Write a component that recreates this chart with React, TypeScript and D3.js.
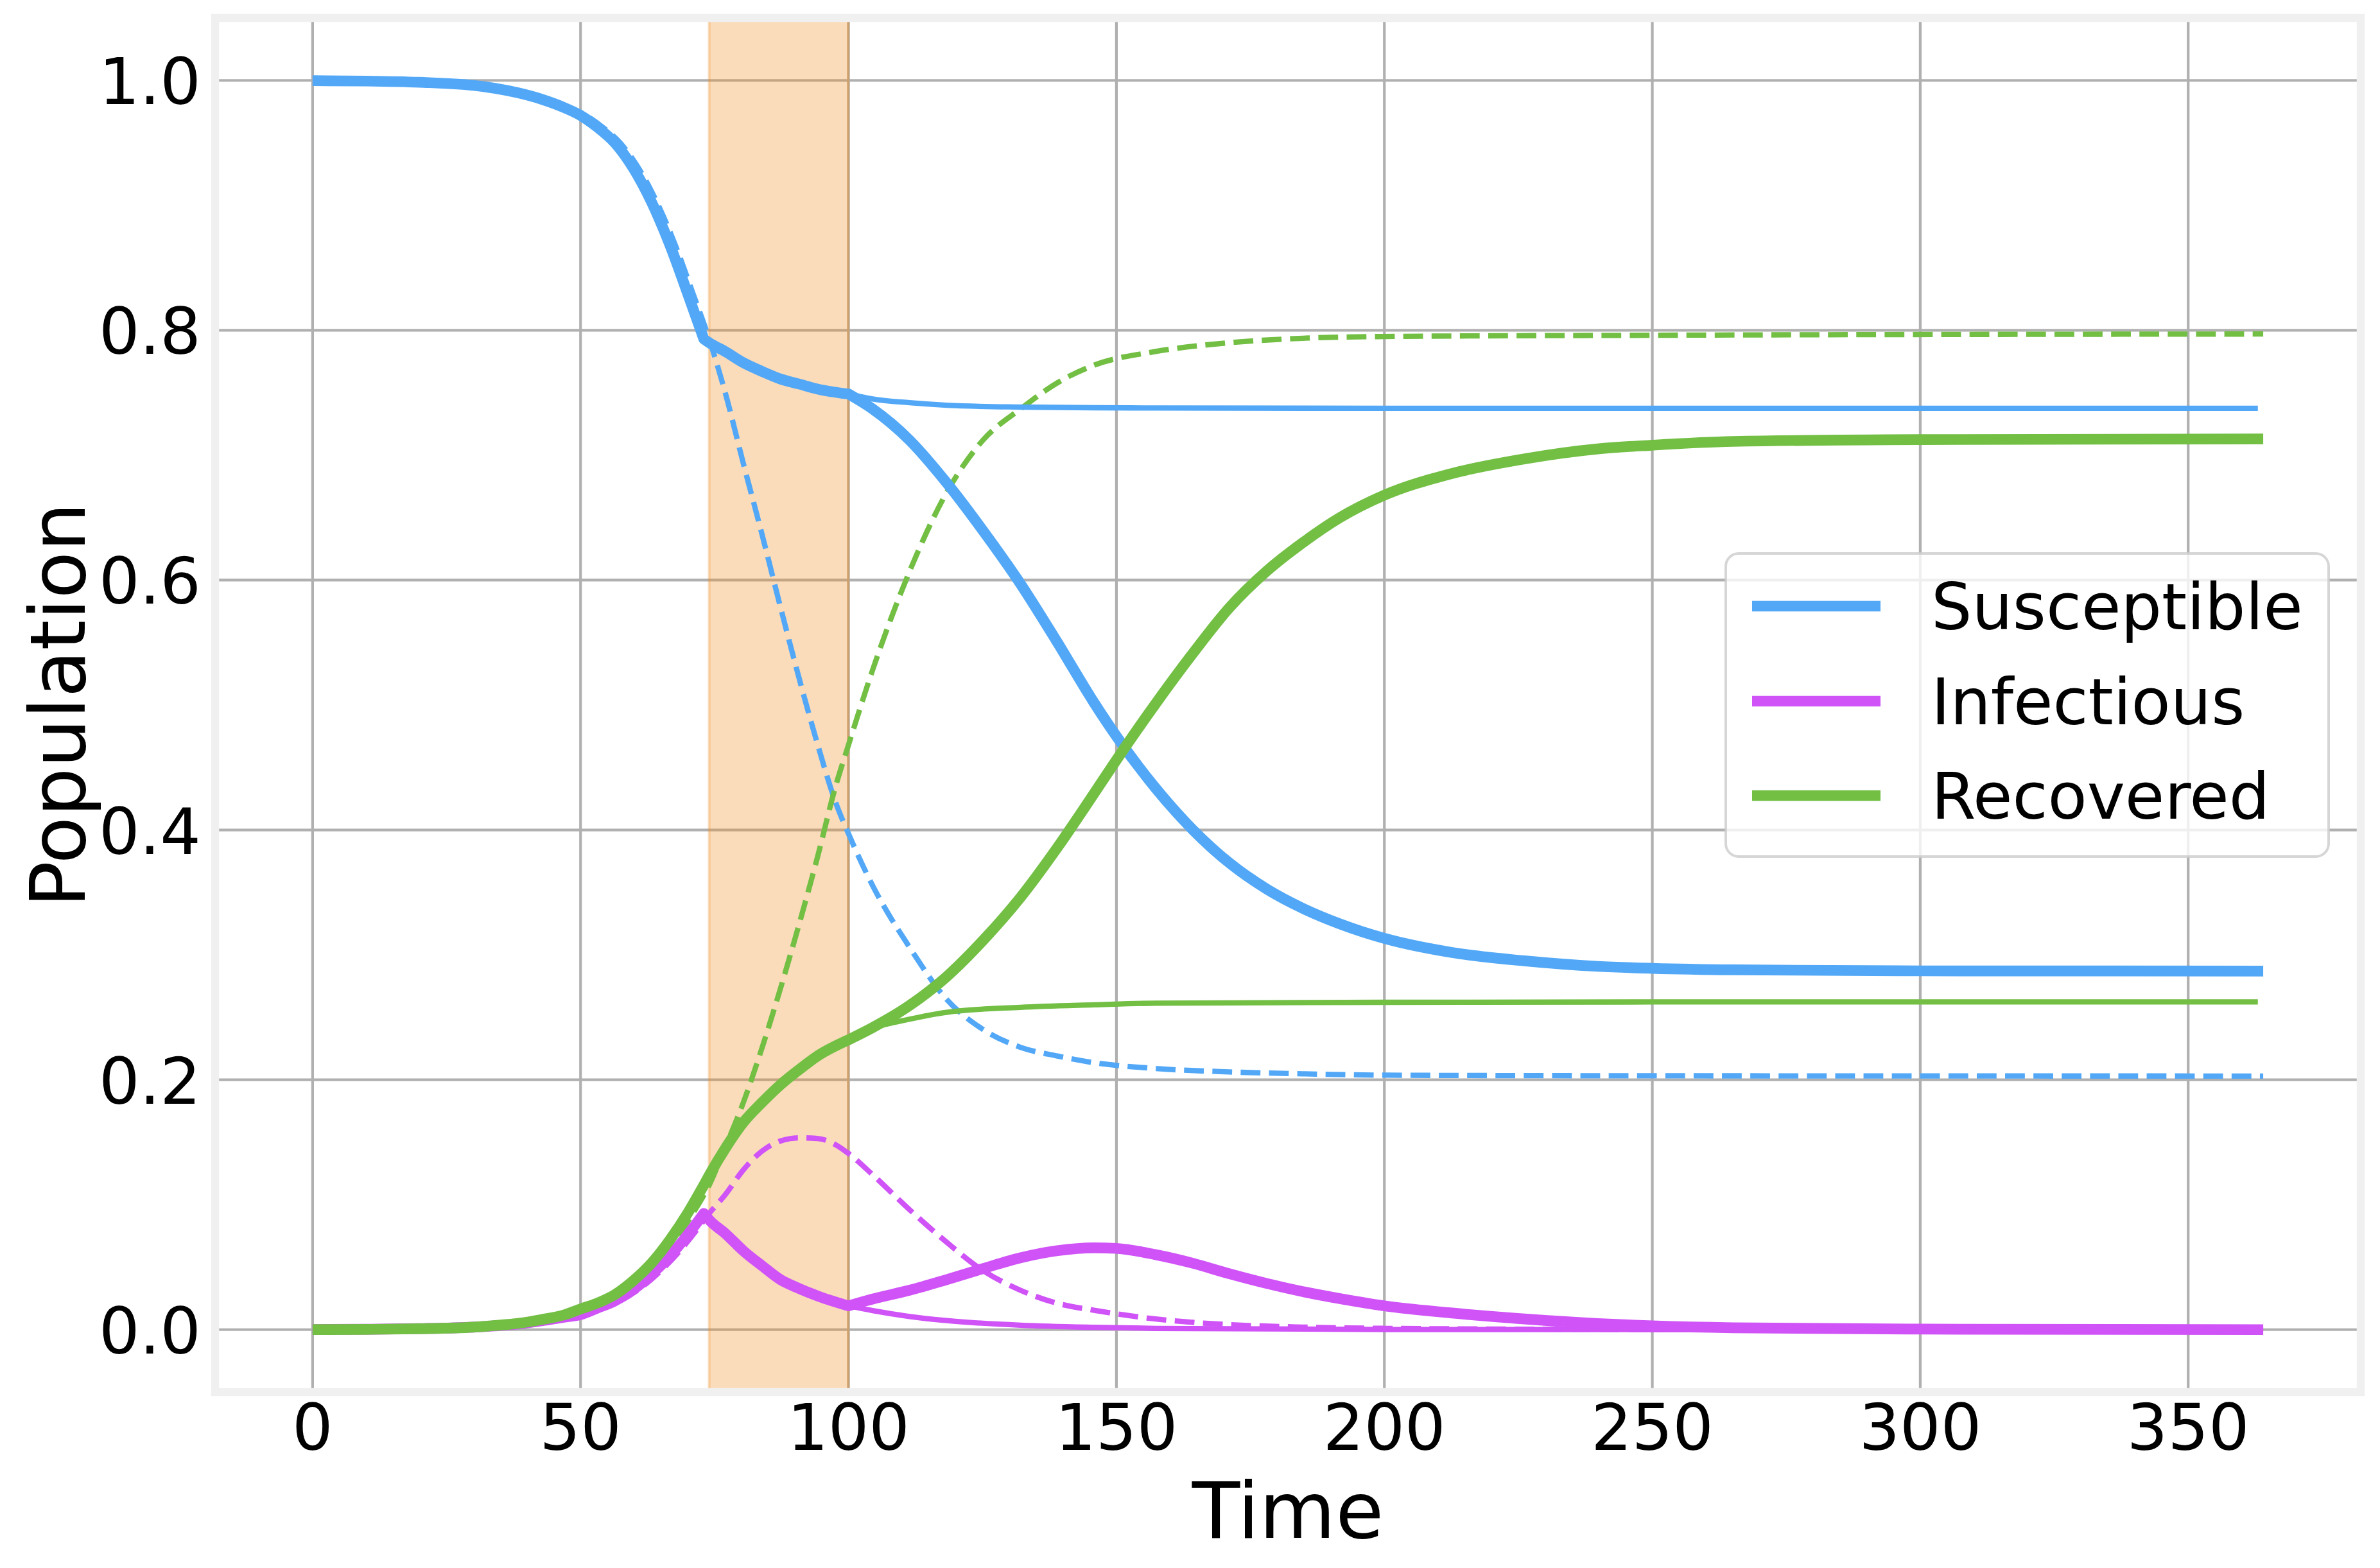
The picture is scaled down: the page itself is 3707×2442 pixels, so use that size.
import React from 'react';
import * as d3 from 'd3';

const W = 3707;
const H = 2442;
const AX = { left: 335, right: 3677, top: 28, bottom: 2168 };

const xTicks = [0, 50, 100, 150, 200, 250, 300, 350];
const yTicks = [0, 0.2, 0.4, 0.6, 0.8, 1.0];
const seriesNames = ['Susceptible', 'Infectious', 'Recovered'];
const seriesColors = ['#52a8f7', '#cf53f7', '#72bf44'];
const spanRange = [74, 100];

// shared history before the intervention (t = 0 .. 73)
const preT = [0, 10, 20, 30, 34, 38.4, 42.7, 47.1, 50, 53, 56.4, 59.8, 63.2, 66.7, 70.1, 73];
const preS = [0.9998, 0.9995, 0.9985, 0.996, 0.9937, 0.99, 0.985, 0.978, 0.972, 0.963, 0.95, 0.93, 0.903, 0.868, 0.828, 0.793];
const preI = [0.0001, 0.0003, 0.0008, 0.002, 0.003, 0.0045, 0.007, 0.01, 0.012, 0.017, 0.023, 0.032, 0.044, 0.059, 0.0765, 0.093];
const preR = [0, 0.0002, 0.0007, 0.002, 0.0033, 0.005, 0.008, 0.012, 0.0165, 0.021, 0.028, 0.039, 0.053, 0.072, 0.094, 0.1156];

// intervention period (t = 73 .. 100), shared by thick and thin lines
const spanT = [73, 74.2, 77, 80.4, 83.9, 87.3, 90.75, 94.2, 100];
const spanS = [0.793, 0.7895, 0.783, 0.774, 0.767, 0.761, 0.757, 0.753, 0.749];
const spanI = [0.093, 0.087, 0.077, 0.063, 0.051, 0.04, 0.033, 0.027, 0.019];
const spanR = [0.1156, 0.125, 0.145, 0.166, 0.182, 0.196, 0.208, 0.219, 0.232];

// thin lines: intervention kept after t = 100
const thinT = [100, 104.5, 111.4, 118.3, 132.1, 145.8, 157.3, 200, 250, 363];
const thinS = [0.749, 0.745, 0.742, 0.74, 0.7385, 0.738, 0.7378, 0.7375, 0.7375, 0.7375];
const thinI = [0.019, 0.0152, 0.0105, 0.0072, 0.0035, 0.0018, 0.001, 0.0001, 0, 0];
const thinR = [0.232, 0.2412, 0.2485, 0.254, 0.258, 0.26, 0.2613, 0.262, 0.2623, 0.2623];

// thick lines: intervention lifted at t = 100
const thickT = [100, 104.5, 111.4, 118.3, 125.2, 132.1, 139, 145.8, 150, 157.3, 164.2, 171.1, 178, 184.8, 191.7, 200, 212.3, 226.1, 239.8, 250, 265, 300, 364];
const thickS = [0.749, 0.737, 0.712, 0.678, 0.639, 0.597, 0.55, 0.502, 0.475, 0.4335, 0.4004, 0.3735, 0.3528, 0.3372, 0.3248, 0.3132, 0.3021, 0.2952, 0.2908, 0.2892, 0.288, 0.2872, 0.287];
const thickI = [0.019, 0.0245, 0.0315, 0.04, 0.049, 0.0575, 0.0632, 0.0655, 0.065, 0.06, 0.0532, 0.0447, 0.037, 0.0304, 0.0248, 0.019, 0.0134, 0.0085, 0.0048, 0.003, 0.0015, 0.0004, 0];
const thickR = [0.232, 0.2418, 0.2595, 0.2825, 0.312, 0.346, 0.386, 0.429, 0.456, 0.501, 0.541, 0.578, 0.607, 0.63, 0.65, 0.668, 0.685, 0.697, 0.705, 0.708, 0.711, 0.7125, 0.713];

// dashed lines: no intervention
const dashT = [0, 11, 21, 31, 35, 39.4, 43.7, 48.1, 51, 54, 57.4, 60.8, 64.2, 67.7, 71.1, 74, 77, 80.4, 83.9, 87.3, 90.75, 94.2, 97.6, 100, 104.5, 111.4, 118.3, 125.2, 132.1, 139, 145.8, 157.3, 171, 184.8, 200, 250, 364];
const dashS = [0.9998, 0.9995, 0.9985, 0.996, 0.9937, 0.99, 0.985, 0.978, 0.972, 0.963, 0.95, 0.93, 0.903, 0.868, 0.828, 0.793, 0.75, 0.693, 0.636, 0.5785, 0.522, 0.469, 0.422, 0.397, 0.3555, 0.306, 0.2645, 0.24, 0.226, 0.219, 0.2137, 0.209, 0.2063, 0.2048, 0.2037, 0.2032, 0.203];
const dashI = [0.0001, 0.0003, 0.0008, 0.002, 0.003, 0.0045, 0.007, 0.01, 0.012, 0.017, 0.023, 0.032, 0.044, 0.059, 0.0765, 0.093, 0.108, 0.128, 0.143, 0.151, 0.1535, 0.153, 0.148, 0.141, 0.124, 0.096, 0.07, 0.047, 0.0315, 0.021, 0.0155, 0.0085, 0.004, 0.002, 0.001, 0.0001, 0];
const dashR = [0, 0.0002, 0.0007, 0.002, 0.0033, 0.005, 0.008, 0.012, 0.0165, 0.021, 0.028, 0.039, 0.053, 0.072, 0.094, 0.1156, 0.146, 0.182, 0.226, 0.273, 0.324, 0.378, 0.435, 0.468, 0.528, 0.607, 0.67, 0.7125, 0.737, 0.758, 0.772, 0.783, 0.79, 0.7936, 0.795, 0.796, 0.797];

const FONT = 'DejaVu Sans, Liberation Sans, sans-serif';

type Pt = [number, number];
const zip = (T: number[], V: number[]): Pt[] => T.map((t, i) => [t, V[i]] as Pt);

export default function App() {
  const x = d3.scaleLinear().domain([-18.2, 382.2]).range([AX.left, AX.right]);
  const y = d3.scaleLinear().domain([-0.05, 1.05]).range([AX.bottom, AX.top]);
  const line = d3
    .line<Pt>()
    .x((d) => x(d[0]))
    .y((d) => y(d[1]))
    .curve(d3.curveMonotoneX);

  const joined = (segs: Pt[][]) =>
    segs
      .map((s, i) => {
        const p = line(s) || '';
        return i === 0 ? p : p.replace(/^M[^A-Za-z]*/, '');
      })
      .join('');

  const dashed = [
    line(zip(dashT, dashS)) || '',
    line(zip(dashT, dashI)) || '',
    line(zip(dashT, dashR)) || '',
  ];
  const thin = [
    joined([zip(spanT, spanS), zip(thinT, thinS)]),
    joined([zip(spanT, spanI), zip(thinT, thinI)]),
    joined([zip(spanT, spanR), zip(thinT, thinR)]),
  ];
  const thick = [
    joined([zip(preT, preS), zip(spanT, spanS), zip(thickT, thickS)]),
    joined([zip(preT, preI), zip(spanT, spanI), zip(thickT, thickI)]),
    joined([zip(preT, preR), zip(spanT, spanR), zip(thickT, thickR)]),
  ];

  const legendX = 2688;
  const legendY = 862;
  const legendW = 939;
  const legendH = 472;
  const rowY = [944, 1092, 1239];

  return (
    <svg
      width={W}
      height={H}
      viewBox={`0 0 ${W} ${H}`}
      style={{ position: 'absolute', left: 0, top: 0, background: '#ffffff' }}
    >
      <rect x={0} y={0} width={W} height={H} fill="#ffffff" />
      {/* grid */}
      <g stroke="#b0b0b0" strokeWidth={4.2}>
        {xTicks.map((t) => (
          <line key={'gx' + t} x1={x(t)} x2={x(t)} y1={AX.top} y2={AX.bottom} />
        ))}
        {yTicks.map((v) => (
          <line key={'gy' + v} x1={AX.left} x2={AX.right} y1={y(v)} y2={y(v)} />
        ))}
      </g>
      {/* intervention span */}
      <rect
        x={x(spanRange[0])}
        y={AX.top}
        width={x(spanRange[1]) - x(spanRange[0])}
        height={AX.bottom - AX.top}
        fill="rgb(240,140,30)"
        fillOpacity={0.3}
        stroke="rgb(240,140,30)"
        strokeOpacity={0.3}
        strokeWidth={4}
      />
      {/* dashed: no intervention */}
      {dashed.map((d, i) => (
        <path
          key={'d' + i}
          d={d}
          fill="none"
          stroke={seriesColors[i]}
          strokeWidth={8.3}
          strokeDasharray="30.8 13.3"
          strokeLinecap="butt"
        />
      ))}
      {/* thin: intervention kept */}
      {thin.map((d, i) => (
        <path
          key={'t' + i}
          d={d}
          fill="none"
          stroke={seriesColors[i]}
          strokeWidth={8.3}
          strokeLinecap="butt"
          strokeLinejoin="round"
        />
      ))}
      {/* thick: intervention lifted */}
      {thick.map((d, i) => (
        <path
          key={'k' + i}
          d={d}
          fill="none"
          stroke={seriesColors[i]}
          strokeWidth={16.7}
          strokeLinecap="butt"
          strokeLinejoin="round"
        />
      ))}
      {/* spines */}
      <rect
        x={AX.left}
        y={AX.top}
        width={AX.right - AX.left}
        height={AX.bottom - AX.top}
        fill="none"
        stroke="#f0f0f0"
        strokeWidth={12.5}
      />
      {/* tick labels */}
      <g fontFamily={FONT} fontSize={100} fill="#000000">
        {xTicks.map((t) => (
          <text key={'xl' + t} x={x(t)} y={2258} textAnchor="middle">
            {String(t)}
          </text>
        ))}
        {yTicks.map((v) => (
          <text key={'yl' + v} x={313} y={y(v) + 37} textAnchor="end">
            {v.toFixed(1)}
          </text>
        ))}
      </g>
      {/* axis labels */}
      <text x={(AX.left + AX.right) / 2} y={2395} textAnchor="middle" fontFamily={FONT} fontSize={122} fill="#000">
        Time
      </text>
      <text
        transform={`translate(132, ${(AX.top + AX.bottom) / 2}) rotate(-90)`}
        textAnchor="middle"
        fontFamily={FONT}
        fontSize={120}
        fill="#000"
      >
        Population
      </text>
      {/* legend */}
      <rect
        x={legendX}
        y={legendY}
        width={legendW}
        height={legendH}
        rx={20}
        ry={20}
        fill="#ffffff"
        fillOpacity={0.8}
        stroke="#cccccc"
        strokeOpacity={0.8}
        strokeWidth={4}
      />
      {seriesNames.map((name, i) => (
        <g key={'lg' + i}>
          <line x1={2729} x2={2929} y1={rowY[i]} y2={rowY[i]} stroke={seriesColors[i]} strokeWidth={16.7} />
          <text x={3008} y={rowY[i] + 36} fontFamily={FONT} fontSize={100} fill="#000">
            {name}
          </text>
        </g>
      ))}
    </svg>
  );
}
